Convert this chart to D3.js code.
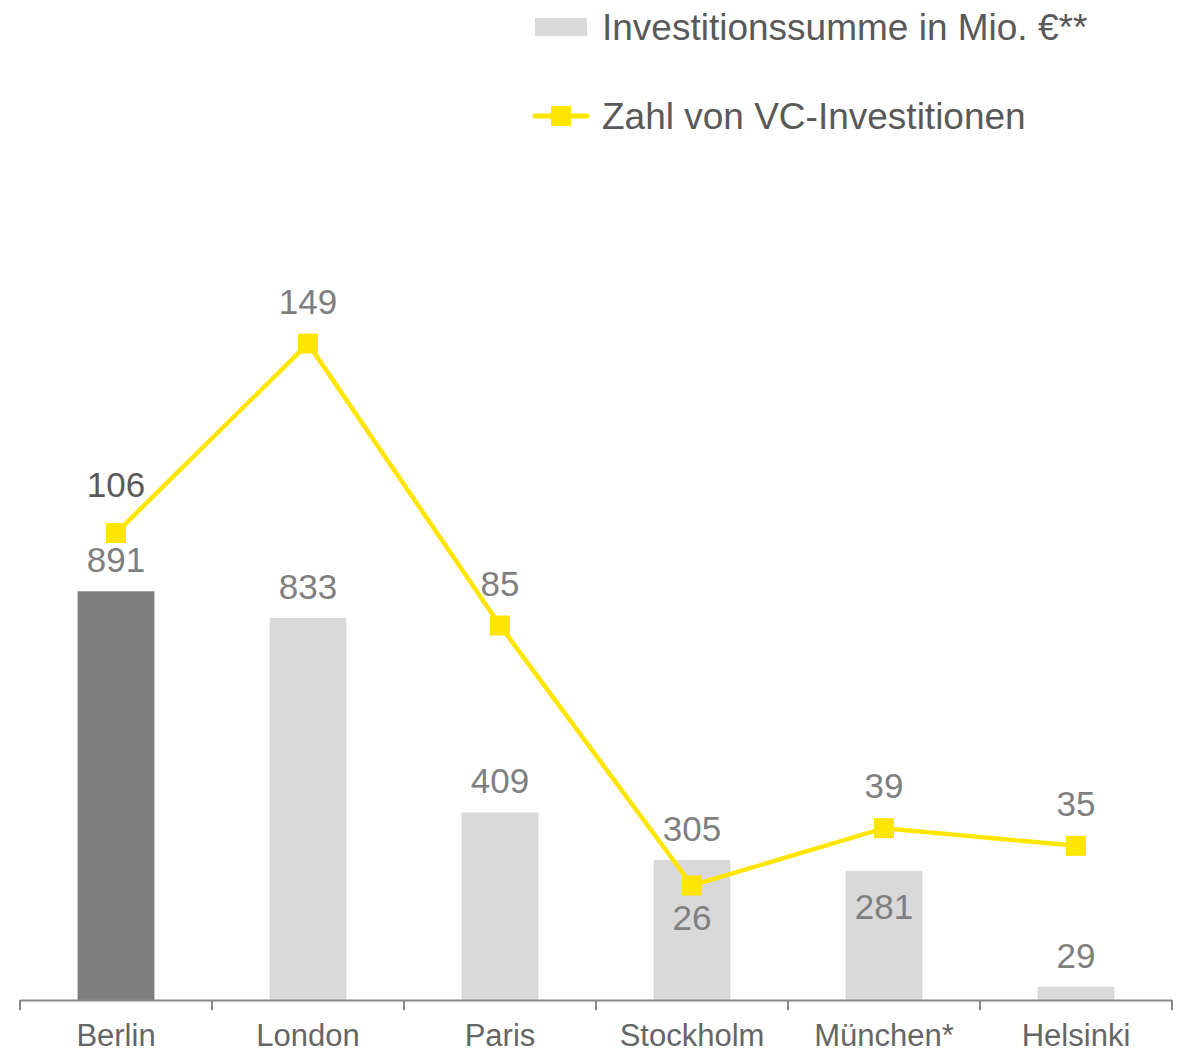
<!DOCTYPE html>
<html>
<head>
<meta charset="utf-8">
<script src="https://cdn.jsdelivr.net/npm/d3@7"></script>
<style>
  body { margin: 0; background: #fff; }
  svg { display: block; font-family: "Liberation Sans", Arial, sans-serif; }
</style>
</head>
<body>
<svg id="chart" width="1177" height="1054"></svg>
<script>
// data
const cities = ["Berlin", "London", "Paris", "Stockholm", "München*", "Helsinki"];
const summe = [891, 833, 409, 305, 281, 29];      // Investitionssumme in Mio. €
const zahl = [106, 149, 85, 26, 39, 35];          // Zahl von VC-Investitionen

const svg = d3.select("#chart");

const x = d3.scaleBand().domain(cities).range([20, 1172]).padding(0);
const yBar = d3.scaleLinear().domain([0, 1090]).range([1000, 500]);
const yLine = d3.scaleLinear().domain([0, 113.5]).range([1000, 500]);

const cx = (d) => x(d) + x.bandwidth() / 2;
const barW = x.bandwidth() * 0.4;

// bars
svg.selectAll("rect.bar")
  .data(cities)
  .enter()
  .append("rect")
  .attr("class", "bar")
  .attr("x", (d) => cx(d) - barW / 2)
  .attr("y", (d, i) => yBar(summe[i]))
  .attr("width", barW)
  .attr("height", (d, i) => 1000 - yBar(summe[i]))
  .attr("fill", (d, i) => (i === 0 ? "#7f7f7f" : "#d9d9d9"));

// bar labels (München sits inside its bar)
svg.selectAll("text.barlab")
  .data(cities)
  .enter()
  .append("text")
  .attr("class", "barlab")
  .attr("x", cx)
  .attr("y", (d, i) => yBar(summe[i]) + (i === 4 ? 48 : -19))
  .attr("text-anchor", "middle")
  .attr("font-size", 35)
  .attr("fill", "#7f7f7f")
  .text((d, i) => summe[i]);

// axis
const axis = svg.append("g").attr("transform", "translate(0,1000)");
axis.call(d3.axisBottom(x).tickSize(0).tickPadding(0));
axis.select(".domain").attr("stroke", "#898989").attr("stroke-width", 2);
axis.selectAll(".tick text")
  .attr("y", 46)
  .attr("dy", 0)
  .attr("font-size", 31)
  .attr("font-family", "Liberation Sans, Arial, sans-serif")
  .attr("fill", "#666");

const edges = cities.map((d) => x(d)).concat([x.range()[1]]);
axis.selectAll("line.edge")
  .data(edges)
  .enter()
  .append("line")
  .attr("class", "edge")
  .attr("x1", (d) => d)
  .attr("x2", (d) => d)
  .attr("y1", 0)
  .attr("y2", 10)
  .attr("stroke", "#898989")
  .attr("stroke-width", 2);

// line
const line = d3.line()
  .x((d, i) => cx(cities[i]))
  .y((d) => yLine(d));

svg.append("path")
  .datum(zahl)
  .attr("d", line)
  .attr("fill", "none")
  .attr("stroke", "#ffe600")
  .attr("stroke-width", 4.5);

svg.selectAll("rect.marker")
  .data(zahl)
  .enter()
  .append("rect")
  .attr("class", "marker")
  .attr("x", (d, i) => cx(cities[i]) - 10)
  .attr("y", (d) => yLine(d) - 10)
  .attr("width", 20)
  .attr("height", 20)
  .attr("fill", "#ffe600");

// line labels
svg.selectAll("text.linelab")
  .data(zahl)
  .enter()
  .append("text")
  .attr("class", "linelab")
  .attr("x", (d, i) => cx(cities[i]))
  .attr("y", (d, i) => yLine(d) + (i === 3 ? 45 : i === 0 ? -36 : -30))
  .attr("text-anchor", "middle")
  .attr("font-size", 35)
  .attr("fill", (d, i) => (i === 0 ? "#595959" : "#7f7f7f"))
  .text((d) => d);

// legend
const leg = svg.append("g");
leg.append("rect")
  .attr("x", 535).attr("y", 18).attr("width", 52).attr("height", 18)
  .attr("fill", "#d9d9d9");
leg.append("text")
  .attr("x", 602).attr("y", 40)
  .attr("font-size", 37)
  .attr("fill", "#595959")
  .text("Investitionssumme in Mio. €**");

leg.append("line")
  .attr("x1", 535).attr("x2", 587).attr("y1", 116).attr("y2", 116)
  .attr("stroke", "#ffe600").attr("stroke-width", 5)
  .attr("stroke-linecap", "round");
leg.append("rect")
  .attr("x", 551).attr("y", 106).attr("width", 20).attr("height", 20)
  .attr("fill", "#ffe600");
leg.append("text")
  .attr("x", 602).attr("y", 129)
  .attr("font-size", 37)
  .attr("fill", "#595959")
  .text("Zahl von VC-Investitionen");
</script>
</body>
</html>
